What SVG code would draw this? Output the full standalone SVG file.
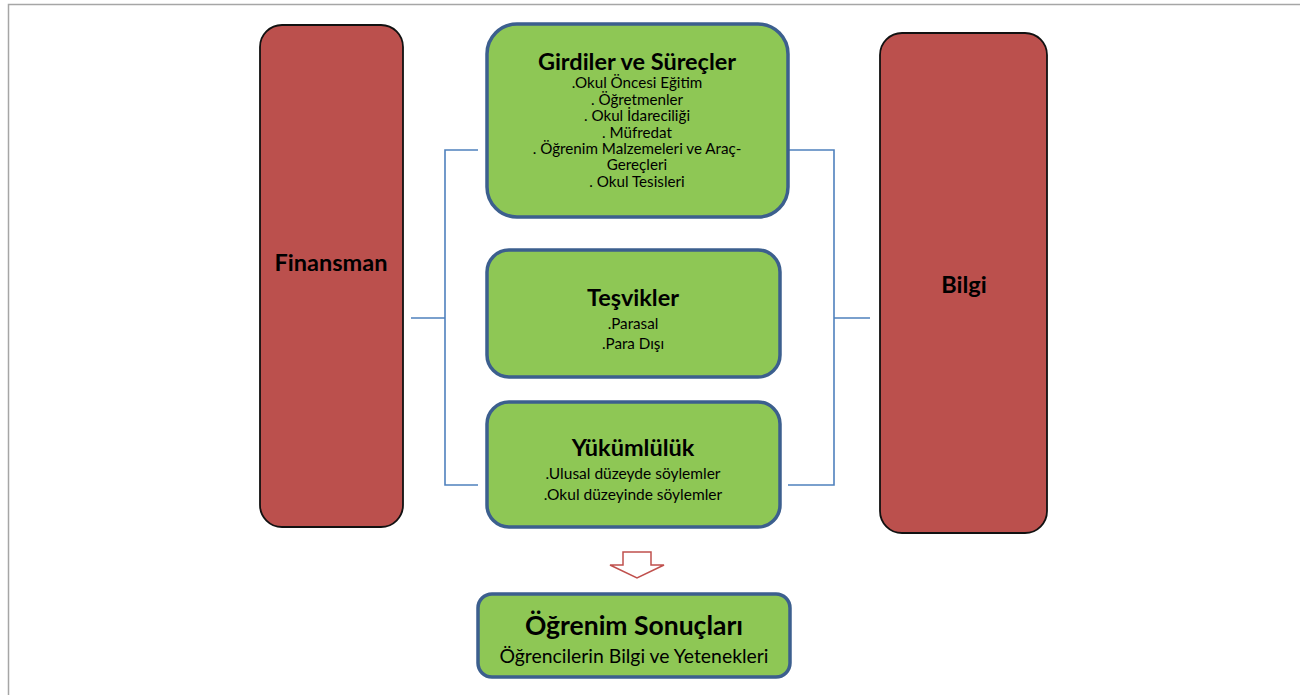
<svg xmlns="http://www.w3.org/2000/svg" width="1300" height="695" viewBox="0 0 1300 695">
<style>
.red{fill:#bb504d;stroke:#111;stroke-width:1.8}
.green{fill:#8ec755;stroke:#3c5f8e;stroke-width:3.5}
.conn{fill:none;stroke:#4f81bd;stroke-width:1.6}
text{font-family:Lato,"Open Sans","Liberation Sans",sans-serif;fill:#000;text-anchor:middle}
.h{font-weight:bold;font-size:23.5px}
.s{font-size:15.2px}
.m{font-size:15.5px}
</style>
<rect width="1300" height="695" fill="#fff"/>
<path d="M8.5 695 V4.5 H1300" fill="none" stroke="#a6a6a6" stroke-width="1.5"/>
<g id="connectors">
<path class="conn" d="M478 150 H445 V485 H478 M411 318 H445"/>
<path class="conn" d="M789 150 H834 V485 H788 M834 318 H870"/>
<path d="M623 552 H651 V565 H664 L637 578 L610 565 H623 Z" fill="#fff" stroke="#c0504d" stroke-width="1.5"/>
</g>
<g id="finansman">
<rect class="red" x="260" y="25" width="143" height="502" rx="22"/>
<text class="h" x="331" y="271">Finansman</text>
</g>
<g id="bilgi">
<rect class="red" x="880" y="33" width="167" height="500" rx="22"/>
<text class="h" x="964" y="293">Bilgi</text>
</g>
<g id="girdiler">
<rect class="green" x="487" y="24" width="301" height="193" rx="30"/>
<text class="h" x="637" y="70">Girdiler ve Süreçler</text>
<text class="s" x="637" y="88">.Okul Öncesi Eğitim</text>
<text class="s" x="637" y="104.5">. Öğretmenler</text>
<text class="s" x="637" y="121">. Okul İdareciliği</text>
<text class="s" x="637" y="137.5">. Müfredat</text>
<text class="s" x="637" y="154">. Öğrenim Malzemeleri ve Araç-</text>
<text class="s" x="637" y="170">Gereçleri</text>
<text class="s" x="637" y="186.5">. Okul Tesisleri</text>
</g>
<g id="tesvikler">
<rect class="green" x="487" y="250" width="293" height="127" rx="22"/>
<text class="h" x="633" y="306">Teşvikler</text>
<text class="s" x="633" y="329">.Parasal</text>
<text class="s" x="633" y="349">.Para Dışı</text>
</g>
<g id="yukumluluk">
<rect class="green" x="487" y="402" width="293" height="125" rx="22"/>
<text class="h" x="633" y="456">Yükümlülük</text>
<text class="m" x="633" y="479">.Ulusal düzeyde söylemler</text>
<text class="m" x="633" y="500">.Okul düzeyinde söylemler</text>
</g>
<g id="sonuclar">
<rect class="green" x="478" y="594" width="312" height="83" rx="14"/>
<text x="634" y="635" style="font-weight:bold;font-size:26.5px">Öğrenim Sonuçları</text>
<text x="634" y="663" style="font-size:19.4px">Öğrencilerin Bilgi ve Yetenekleri</text>
</g>
</svg>
